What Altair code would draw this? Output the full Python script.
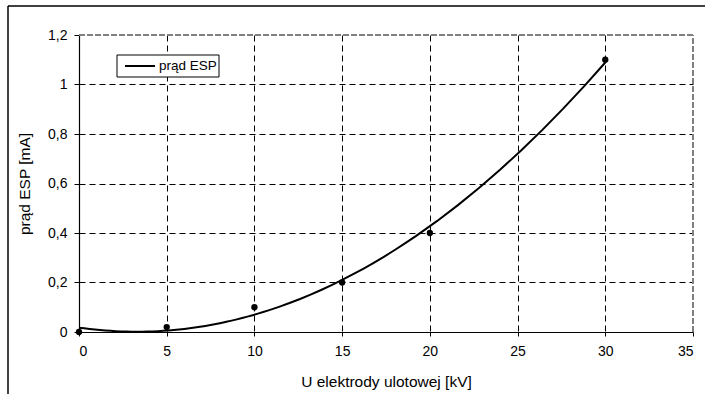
import altair as alt
import pandas as pd

# ---- data ----
U_KV = [0, 5, 10, 15, 20, 30]
I_MA = [0.0, 0.02, 0.1, 0.2, 0.4, 1.1]
X_TICKS = [0, 5, 10, 15, 20, 25, 30, 35]
Y_TICKS = [0, 0.2, 0.4, 0.6, 0.8, 1.0, 1.2]
SERIES = ["prąd ESP"]
X_TITLE = "U elektrody ulotowej [kV]"
Y_TITLE = "prąd ESP [mA]"

df = pd.DataFrame({"U": U_KV, "I": I_MA})
legend_df = pd.DataFrame({"label": SERIES})
one = alt.Data(values=[{}])

FONT = "Liberation Sans"
X_MAX = X_TICKS[-1]
Y_MAX = Y_TICKS[-1]

xscale = alt.Scale(domain=[0, X_MAX], nice=False, zero=True)
yscale = alt.Scale(domain=[0, Y_MAX], nice=False, zero=True)

xaxis = alt.Axis(
    values=X_TICKS, title=X_TITLE, format="d",
    grid=True, gridColor="black", gridDash=[6, 4], gridWidth=1,
    gridOpacity={"condition": {"test": "datum.value <= 0 || datum.value >= 35", "value": 0}, "value": 1},
    domainColor="black", domainWidth=1.2, tickColor="black", tickSize=4,
    labelFont=FONT, labelFontSize=14, labelColor="black", labelPadding=8,
    titleFont=FONT, titleFontSize=15.5, titleFontWeight="normal", titleColor="black",
    titlePadding=16,
)
yaxis = alt.Axis(
    values=Y_TICKS, title=Y_TITLE,
    labelExpr="replace(format(datum.value, '~g'), '.', ',')",
    grid=True, gridColor="black", gridDash=[6, 4], gridWidth=1,
    gridOpacity={"condition": {"test": "datum.value <= 0 || datum.value >= 1.19", "value": 0}, "value": 1},
    domainColor="black", domainWidth=1.2, tickColor="black", tickSize=5,
    labelFont=FONT, labelFontSize=14, labelColor="black", labelPadding=7,
    titleFont=FONT, titleFontSize=15.5, titleFontWeight="normal", titleColor="black",
    titlePadding=15,
)

base = alt.Chart(df)

points = base.mark_circle(color="black", size=40, opacity=1).encode(
    x=alt.X("U:Q", scale=xscale, axis=xaxis),
    y=alt.Y("I:Q", scale=yscale, axis=yaxis),
)

curve = base.transform_regression(
    "U", "I", method="poly", order=2, extent=[0, 30]
).mark_line(color="black", strokeWidth=2).encode(
    x=alt.X("U:Q", scale=xscale),
    y=alt.Y("I:Q", scale=yscale),
)

border_top = alt.Chart(one).mark_rule(color="#808080", strokeWidth=2, strokeDash=[6, 2]).encode(
    x=alt.datum(0, scale=xscale), x2=alt.datum(X_MAX), y=alt.datum(Y_MAX, scale=yscale)
)
border_right = alt.Chart(one).mark_rule(color="#808080", strokeWidth=2, strokeDash=[6, 2]).encode(
    x=alt.datum(X_MAX, scale=xscale), y=alt.datum(0, scale=yscale), y2=alt.datum(Y_MAX)
)

outer_left = alt.Chart(one).mark_rule(color="black", strokeWidth=1.5).encode(
    x=alt.value(-71), y=alt.value(-29), y2=alt.value(370)
)
outer_top = alt.Chart(one).mark_rule(color="black", strokeWidth=1.5).encode(
    x=alt.value(-71), x2=alt.value(626), y=alt.value(-29)
)

legend_box = alt.Chart(one).mark_rect(fill="white", stroke="black", strokeWidth=1).encode(
    x=alt.value(38), x2=alt.value(140), y=alt.value(20), y2=alt.value(42)
)
legend_line = alt.Chart(one).mark_rule(color="black", strokeWidth=2).encode(
    x=alt.value(46), x2=alt.value(76), y=alt.value(31)
)
legend_text = alt.Chart(legend_df).mark_text(
    align="left", baseline="middle", font=FONT, fontSize=13.5, color="black"
).encode(x=alt.value(80), y=alt.value(31), text="label:N")

chart = alt.layer(
    border_top, border_right, curve, points,
    outer_left, outer_top, legend_box, legend_line, legend_text,
).properties(
    width=614, height=297,
    autosize=alt.AutoSizeParams(type="none"),
    padding={"left": 79, "top": 35, "right": 17, "bottom": 62},
    background="white",
).configure_view(strokeWidth=0)

chart.save("out.html", embed_options={"renderer": "svg", "actions": False})
